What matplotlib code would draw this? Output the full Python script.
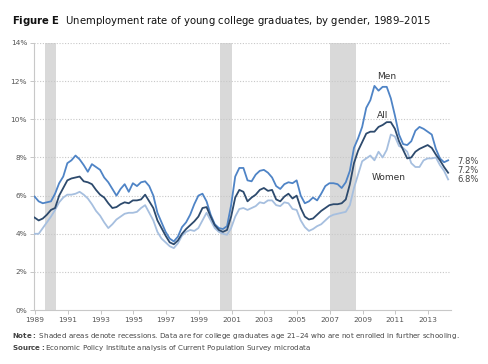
import numpy as np
import matplotlib
matplotlib.use("Agg")
import matplotlib.pyplot as plt

# quarterly observations, Q4 1989 .. Q1 2015 (fractional years)
dates = 1989.875 + 0.25 * np.arange(102)

men = [5.95, 5.7, 5.6, 5.65, 5.7, 6.1, 6.65, 7.0, 7.7, 7.85,
       8.1, 7.9, 7.6, 7.25, 7.65, 7.5, 7.35, 6.95, 6.7, 6.35,
       6.0, 6.35, 6.6, 6.2, 6.65, 6.5, 6.7, 6.75, 6.5, 6.0,
       5.1, 4.6, 4.1, 3.75, 3.6, 3.85, 4.35, 4.6, 5.0, 5.55,
       6.0, 6.1, 5.7, 5.0, 4.5, 4.3, 4.25, 4.4, 5.5, 7.0,
       7.45, 7.45, 6.8, 6.75, 7.1, 7.3, 7.35, 7.2, 6.95, 6.5,
       6.35, 6.6, 6.7, 6.65, 6.8, 6.0, 5.6, 5.7, 5.9, 5.75,
       6.1, 6.5, 6.65, 6.65, 6.6, 6.4, 6.7, 7.3, 8.5, 9.0,
       9.6, 10.6, 11.0, 11.75, 11.5, 11.7, 11.7, 11.1, 10.2, 9.2,
       8.7, 8.65, 8.85, 9.4, 9.6, 9.5, 9.35, 9.2, 8.45, 7.95,
       7.75, 7.85]

all_grads = [4.85, 4.7, 4.8, 5.0, 5.25, 5.35, 6.0, 6.4, 6.8, 6.9,
             6.95, 7.0, 6.75, 6.7, 6.6, 6.3, 6.05, 5.9, 5.6, 5.35,
             5.4, 5.55, 5.65, 5.6, 5.75, 5.75, 5.8, 6.05, 5.7, 5.35,
             4.7, 4.3, 3.9, 3.55, 3.45, 3.65, 4.0, 4.25, 4.45, 4.65,
             4.9, 5.35, 5.4, 4.9, 4.45, 4.2, 4.1, 4.2, 4.9, 5.9,
             6.3, 6.2, 5.7, 5.9, 6.05, 6.3, 6.4, 6.25, 6.3, 5.8,
             5.7, 5.95, 6.1, 5.85, 6.0, 5.35, 4.9, 4.75, 4.8, 5.0,
             5.2, 5.35, 5.5, 5.55, 5.55, 5.6, 5.8, 6.6, 7.7, 8.35,
             8.8, 9.25, 9.35, 9.35, 9.6, 9.7, 9.85, 9.85, 9.5, 8.85,
             8.4, 7.95, 8.0, 8.3, 8.45, 8.55, 8.65, 8.5, 8.15, 7.85,
             7.5, 7.2]

women = [4.0, 4.0, 4.3, 4.6, 4.9, 5.25, 5.65, 5.9, 6.05, 6.05,
         6.1, 6.2, 6.05, 5.85, 5.55, 5.2, 4.95, 4.6, 4.3, 4.5,
         4.75, 4.9, 5.05, 5.1, 5.1, 5.15, 5.35, 5.5, 5.1, 4.7,
         4.1, 3.75, 3.55, 3.35, 3.25, 3.5, 3.9, 4.1, 4.2, 4.15,
         4.3, 4.7, 5.1, 4.7, 4.3, 4.1, 4.0, 3.95, 4.3, 4.9,
         5.3, 5.35, 5.25, 5.35, 5.45, 5.65, 5.6, 5.75, 5.75, 5.5,
         5.45, 5.65, 5.6, 5.3, 5.25, 4.7, 4.35, 4.15, 4.25, 4.4,
         4.5, 4.7, 4.9, 5.0, 5.05, 5.1, 5.15, 5.5, 6.4, 7.1,
         7.8, 7.95, 8.1, 7.85, 8.3, 8.0, 8.4, 9.2, 9.1, 8.6,
         8.5, 8.3, 7.7, 7.5, 7.5, 7.85, 7.95, 7.95, 8.0, 7.6,
         7.3, 6.85]

recessions = [(1990.5, 1991.2), (2001.17, 2001.9), (2007.92, 2009.5)]
tick_years = list(range(1989, 2015, 2))
end_labels = ["7.8%", "7.2%", "6.8%"]

c_men = "#4f84c6"
c_all = "#2d4a6d"
c_women = "#a6bfdf"
grey = "#555555"

fig = plt.figure(figsize=(4.88, 3.64), dpi=100)
ax = fig.add_axes([0.0697, 0.148, 0.8545, 0.734])

for a, b in recessions:
    ax.axvspan(a, b, color="#d9d9d9", lw=0, zorder=0)

for v in range(2, 15, 2):
    ax.axhline(v, color="#c8c8c8", lw=0.8, ls=(0, (1, 1.5)), zorder=1)

ax.plot(dates, women, color=c_women, lw=1.3, zorder=3)
ax.plot(dates, men, color=c_men, lw=1.3, zorder=4)
ax.plot(dates, all_grads, color=c_all, lw=1.3, zorder=5)

ax.set_xlim(1989.84, 2015.3)
ax.set_ylim(0, 14)

# year ticks sit near the end of each labelled year in the original
ax.set_xticks([y + 0.9 for y in tick_years])
ax.set_xticklabels([str(y) for y in tick_years])
ax.set_yticks(range(0, 15, 2))
ax.set_yticklabels([f"{v}%" for v in range(0, 15, 2)])
ax.tick_params(axis="both", labelsize=5.3, colors="#bdbdbd", labelcolor=grey,
               length=3, width=0.6, pad=2)

for s in ["top", "right"]:
    ax.spines[s].set_visible(False)
for s in ["left", "bottom"]:
    ax.spines[s].set_color("#c8c8c8")
    ax.spines[s].set_linewidth(0.8)

ax.text(2011.4, 12.25, "Men", fontsize=6.5, color="#333333", ha="center", va="center")
ax.text(2011.15, 10.2, "All", fontsize=6.5, color="#333333", ha="center", va="center")
ax.text(2011.5, 6.95, "Women", fontsize=6.5, color="#333333", ha="center", va="center")

for lab, yv in zip(end_labels, [7.8, 7.3, 6.82]):
    ax.text(2015.67, yv, lab, fontsize=6.0, color="#444444", ha="left",
            va="center", clip_on=False)

fig.text(0.025, 0.943, r"$\bf{Figure\ E}$  Unemployment rate of young college graduates, by gender, 1989–2015",
         fontsize=7.3, color="#111111", ha="left", va="center")

fig.text(0.025, 0.077, r"$\bf{Note:}$ Shaded areas denote recessions. Data are for college graduates age 21–24 who are not enrolled in further schooling.",
         fontsize=5.1, color="#444444", ha="left", va="center")
fig.text(0.025, 0.043, r"$\bf{Source:}$Economic Policy Institute analysis of Current Population Survey microdata",
         fontsize=5.1, color="#444444", ha="left", va="center")

fig.savefig("out.png", dpi=100)
